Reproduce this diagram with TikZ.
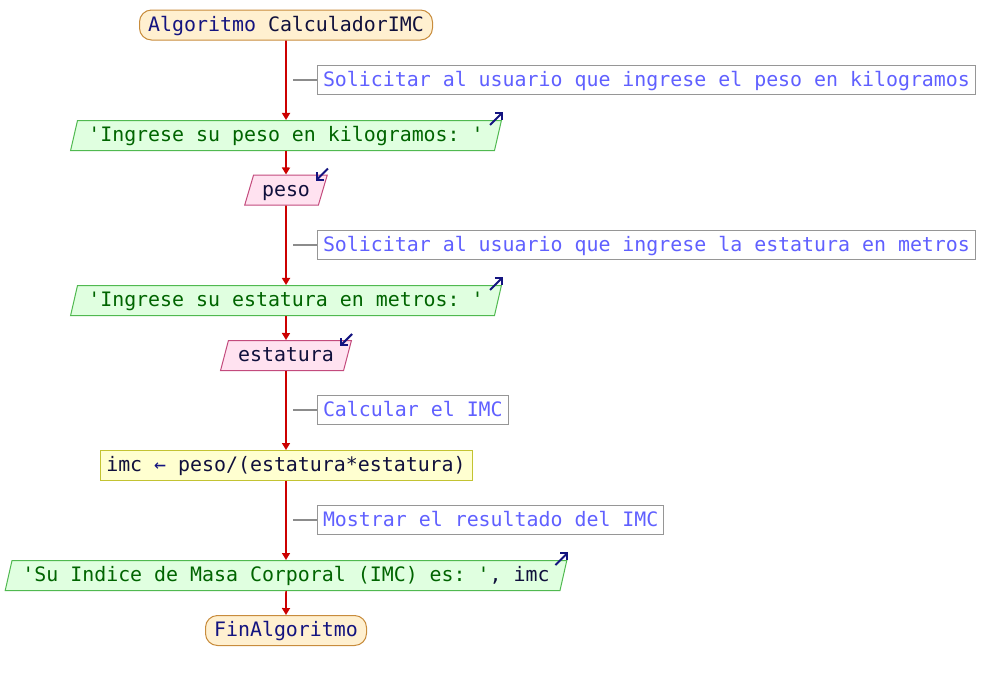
\documentclass[tikz,border=0pt]{standalone}
\usepackage{fontspec}
\setmonofont{DejaVu Sans Mono}
\usetikzlibrary{shapes.geometric,arrows.meta}

\definecolor{flujo}{RGB}{204,0,0}
\definecolor{clave}{RGB}{20,20,128}
\definecolor{varia}{RGB}{16,16,60}
\definecolor{cadena}{RGB}{0,100,0}
\definecolor{notatexto}{RGB}{96,96,255}

\tikzset{
  caja/.style={minimum height=30, inner sep=0, line width=1, text height=15, text depth=3, font=\ttfamily\fontsize{19.9}{24}\selectfont},
  inicio/.style={caja, draw={rgb,255:red,200;green,140;blue,60}, fill={rgb,255:red,255;green,240;blue,208}, rounded corners=12, text=clave},
  nota/.style={caja, minimum height=29, anchor=west, draw={rgb,255:red,150;green,150;blue,150}, fill=white, text=notatexto, inner xsep=5.5},
  paral/.style={caja, trapezium, trapezium left angle=70, trapezium right angle=110, trapezium stretches=true},
  salida/.style={paral, draw={rgb,255:red,80;green,185;blue,80}, fill={rgb,255:red,224;green,255;blue,224}, text=cadena},
  entrada/.style={paral, draw={rgb,255:red,195;green,75;blue,125}, fill={rgb,255:red,255;green,226;blue,240}, text=varia},
  proceso/.style={caja, draw={rgb,255:red,195;green,195;blue,50}, fill={rgb,255:red,255;green,255;blue,208}, text=varia},
  flecha/.style={draw=flujo, line width=1.6, -{Triangle[width=8,length=7]}},
  guia/.style={draw={rgb,255:red,140;green,140;blue,140}, line width=1.2},
  marca/.style={draw=clave, line width=2, -{Straight Barb[length=5,width=10]}}
}

\begin{document}
\begin{tikzpicture}[x=1pt,y=-1pt]
\useasboundingbox (0,0) rectangle (986,680);

% bloques del diagrama
\node[inicio, minimum width=293] (ini) at (286,25) {Algoritmo \textcolor{varia}{CalculadorIMC}};
\node[salida, minimum width=432] (o1) at (286,135.5) {'Ingrese su peso en kilogramos: '};
\node[entrada, minimum width=83] (i1) at (286,190) {peso};
\node[salida, minimum width=432] (o2) at (286,300.5) {'Ingrese su estatura en metros: '};
\node[entrada, minimum width=131] (i2) at (286,355.5) {estatura};
\node[proceso, minimum width=372] (p1) at (286,465.5) {imc \textcolor{clave}{←} peso/(estatura*estatura)};
\node[salida, minimum width=563] (o3) at (286,575.5) {'Su Indice de Masa Corporal (IMC) es: '\textcolor{varia}{, imc}};
\node[inicio, minimum width=161] (fin) at (286,630.5) {FinAlgoritmo};

% comentarios
\node[nota] (c1) at (317,80) {Solicitar al usuario que ingrese el peso en kilogramos};
\node[nota] (c2) at (317,245) {Solicitar al usuario que ingrese la estatura en metros};
\node[nota] (c3) at (317,410) {Calcular el IMC};
\node[nota] (c4) at (317,520) {Mostrar el resultado del IMC};
\coordinate (k1) at (293,80);
\coordinate (k2) at (293,245);
\coordinate (k3) at (293,410);
\coordinate (k4) at (293,520);

% flujo
\draw[flecha] (ini) -- (o1);
\draw[flecha] (o1) -- (i1);
\draw[flecha] (i1) -- (o2);
\draw[flecha] (o2) -- (i2);
\draw[flecha] (i2) -- (p1);
\draw[flecha] (p1) -- (o3);
\draw[flecha] (o3) -- (fin);

\draw[guia] (k1) -- (c1);
\draw[guia] (k2) -- (c2);
\draw[guia] (k3) -- (c3);
\draw[guia] (k4) -- (c4);

% marcas de entrada/salida
\draw[marca] ([shift={(-12,5)}]o1.top right corner) -- ++(13,-13);
\draw[marca] ([shift={(-12,5)}]o2.top right corner) -- ++(13,-13);
\draw[marca] ([shift={(-12,5)}]o3.top right corner) -- ++(13,-13);
\draw[marca] ([shift={(0,-6)}]i1.top right corner) -- ++(-12,12);
\draw[marca] ([shift={(0,-6)}]i2.top right corner) -- ++(-12,12);

\end{tikzpicture}
\end{document}
